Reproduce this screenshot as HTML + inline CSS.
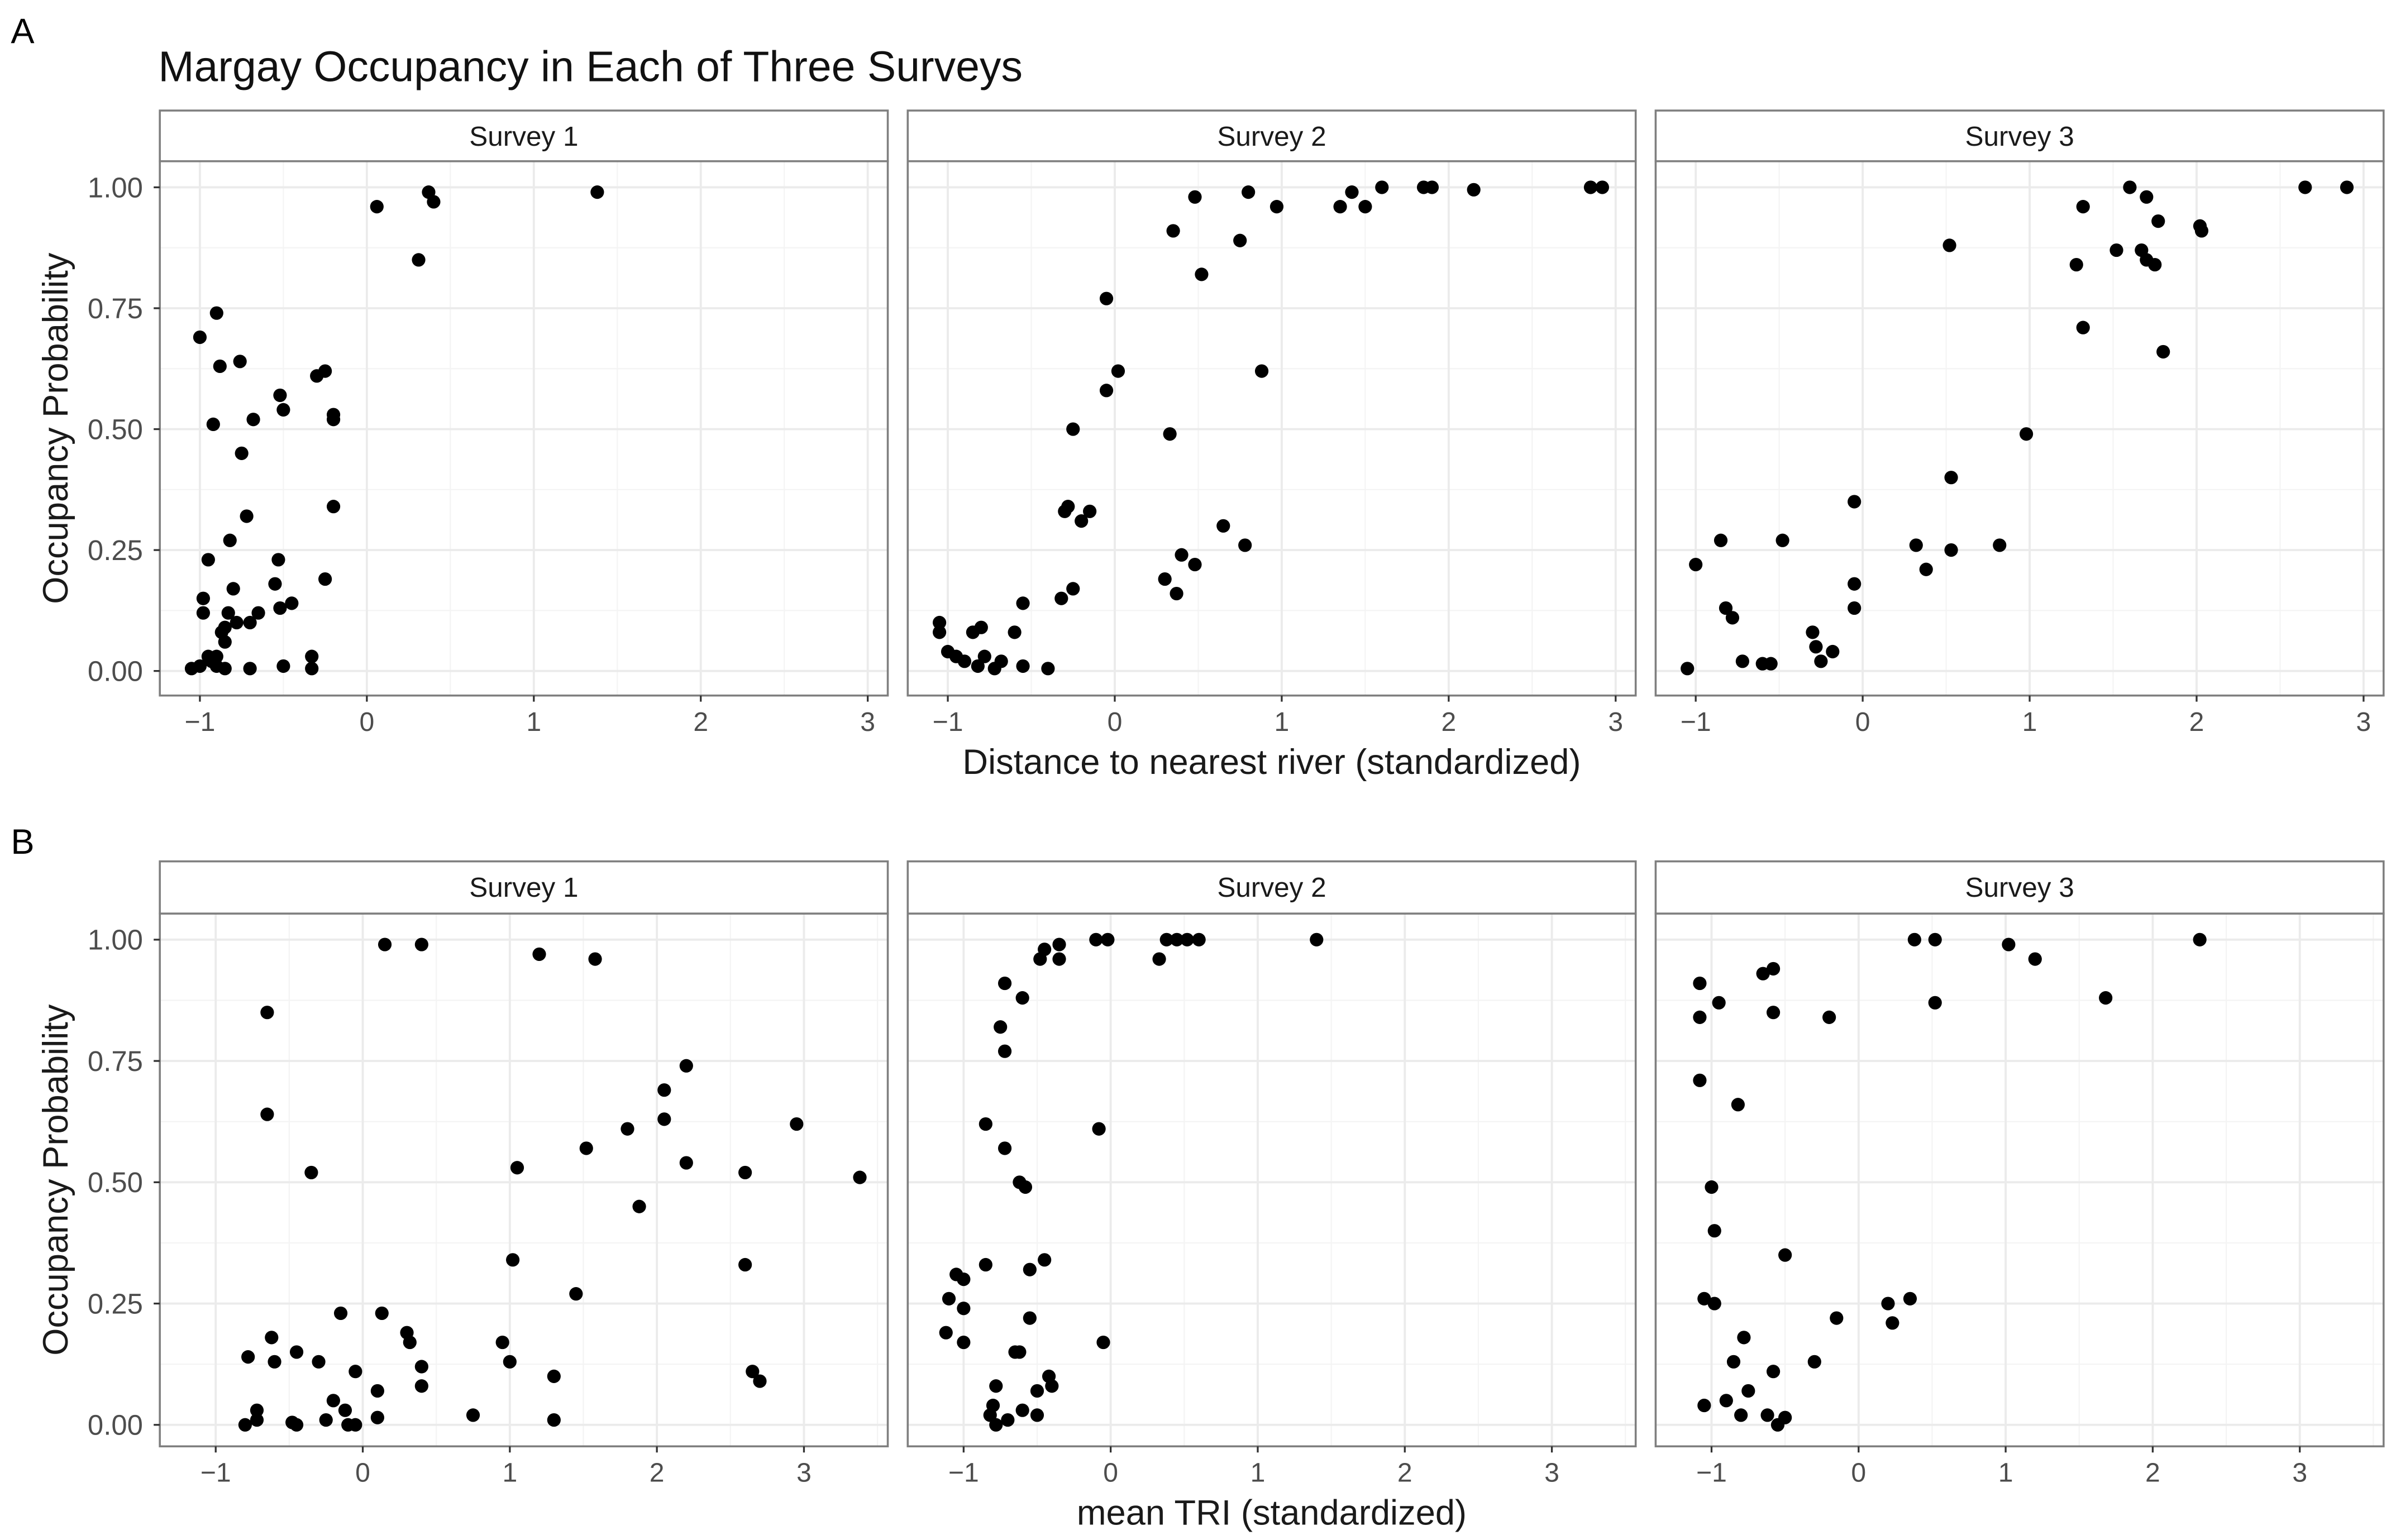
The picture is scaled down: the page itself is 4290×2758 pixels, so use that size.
<!DOCTYPE html>
<html><head><meta charset="utf-8"><style>
html,body{margin:0;padding:0;background:#fff;}
svg{display:block;font-family:"Liberation Sans",sans-serif;}
</style></head><body>
<svg id="chart" width="4290" height="2758" viewBox="0 0 1560 1003" xmlns="http://www.w3.org/2000/svg">
<text x="7" y="28" font-size="23">A</text>
<text x="103" y="53" font-size="28" fill="#111">Margay Occupancy in Each of Three Surveys</text>
<text x="7" y="556" font-size="23">B</text>
<g id="plots"></g>
</svg>
<script>
const surveys = ["Survey 1","Survey 2","Survey 3"];
const xTicks = [-1,0,1,2,3];
const yTicks = [0,0.25,0.5,0.75,1];
const yTickLabels = ["0.00","0.25","0.50","0.75","1.00"];
const xTitleA = "Distance to nearest river (standardized)";
const xTitleB = "mean TRI (standardized)";
const yTitle = "Occupancy Probability";

const a1x=[-1.05,-1.0,-0.98,-0.98,-0.95,-0.93,-0.92,-0.9,-0.88,-0.87,-0.85,-0.83,-0.82,-0.8,-0.76,-0.75,-0.72,-0.7,-0.68,-0.65,-0.55,-0.53,-0.52,-0.5,-0.45,-0.52,-0.5,-0.7,-0.33,-0.33,-0.3,-0.25,-0.25,-0.2,-0.2,-0.2,-0.9,-0.95,-1.0,-0.85,0.06,0.31,0.37,0.4,1.38,-0.78,-0.85,-0.9];
const a1y=[0.005,0.69,0.15,0.12,0.23,0.02,0.51,0.74,0.63,0.08,0.06,0.12,0.27,0.17,0.64,0.45,0.32,0.1,0.52,0.12,0.18,0.23,0.57,0.54,0.14,0.13,0.01,0.005,0.03,0.005,0.61,0.62,0.19,0.53,0.52,0.34,0.01,0.03,0.01,0.005,0.96,0.85,0.99,0.97,0.99,0.1,0.09,0.03];
const a2x=[-1.05,-1.05,-1.0,-0.95,-0.9,-0.85,-0.82,-0.8,-0.78,-0.72,-0.68,-0.6,-0.55,-0.55,-0.4,-0.32,-0.25,-0.3,-0.28,-0.25,-0.2,-0.15,-0.05,-0.05,0.02,0.3,0.33,0.35,0.37,0.4,0.48,0.48,0.52,0.65,0.75,0.78,0.8,0.88,0.97,1.35,1.42,1.5,1.6,1.85,1.9,2.15,2.85,2.92];
const a2y=[0.08,0.1,0.04,0.03,0.02,0.08,0.01,0.09,0.03,0.005,0.02,0.08,0.01,0.14,0.005,0.15,0.17,0.33,0.34,0.5,0.31,0.33,0.58,0.77,0.62,0.19,0.49,0.91,0.16,0.24,0.22,0.98,0.82,0.3,0.89,0.26,0.99,0.62,0.96,0.96,0.99,0.96,1.0,1.0,1.0,0.995,1.0,1.0];
const a3x=[-1.05,-1.0,-0.85,-0.82,-0.78,-0.72,-0.6,-0.55,-0.48,-0.3,-0.28,-0.25,-0.18,-0.05,-0.05,-0.05,0.32,0.38,0.52,0.53,0.53,0.82,0.98,1.28,1.32,1.32,1.52,1.6,1.67,1.7,1.7,1.75,1.77,1.8,2.02,2.03,2.65,2.9];
const a3y=[0.005,0.22,0.27,0.13,0.11,0.02,0.015,0.015,0.27,0.08,0.05,0.02,0.04,0.35,0.18,0.13,0.26,0.21,0.88,0.4,0.25,0.26,0.49,0.84,0.96,0.71,0.87,1.0,0.87,0.98,0.85,0.84,0.93,0.66,0.92,0.91,1.0,1.0];
const b1x=[-0.8,-0.78,-0.72,-0.72,-0.65,-0.65,-0.62,-0.6,-0.45,-0.48,-0.45,-0.35,-0.3,-0.25,-0.2,-0.15,-0.12,-0.05,-0.1,-0.05,0.1,0.1,0.13,0.15,0.4,0.3,0.32,0.4,0.4,0.75,0.95,1.0,1.02,1.05,1.2,1.3,1.3,1.45,1.52,1.58,1.8,1.88,2.05,2.05,2.2,2.2,2.6,2.6,2.65,2.7,2.95,3.38];
const b1y=[0.0,0.14,0.03,0.01,0.85,0.64,0.18,0.13,0.15,0.005,0.0,0.52,0.13,0.01,0.05,0.23,0.03,0.11,0.0,0.0,0.07,0.015,0.23,0.99,0.99,0.19,0.17,0.12,0.08,0.02,0.17,0.13,0.34,0.53,0.97,0.1,0.01,0.27,0.57,0.96,0.61,0.45,0.63,0.69,0.74,0.54,0.52,0.33,0.11,0.09,0.62,0.51];
const b2x=[-1.12,-1.1,-1.05,-1.0,-1.0,-1.0,-0.85,-0.85,-0.82,-0.8,-0.78,-0.78,-0.75,-0.72,-0.72,-0.72,-0.7,-0.65,-0.62,-0.62,-0.6,-0.6,-0.58,-0.55,-0.55,-0.5,-0.5,-0.48,-0.45,-0.45,-0.42,-0.4,-0.35,-0.35,-0.1,-0.08,-0.05,-0.02,0.33,0.38,0.45,0.52,0.6,1.4];
const b2y=[0.19,0.26,0.31,0.3,0.24,0.17,0.33,0.62,0.02,0.04,0.0,0.08,0.82,0.77,0.91,0.57,0.01,0.15,0.15,0.5,0.03,0.88,0.49,0.32,0.22,0.07,0.02,0.96,0.98,0.34,0.1,0.08,0.96,0.99,1.0,0.61,0.17,1.0,0.96,1.0,1.0,1.0,1.0,1.0];
const b3x=[-1.08,-1.08,-1.08,-1.05,-1.05,-1.0,-0.98,-0.98,-0.95,-0.9,-0.85,-0.82,-0.8,-0.78,-0.75,-0.65,-0.62,-0.58,-0.58,-0.58,-0.55,-0.5,-0.5,-0.3,-0.2,-0.15,0.2,0.23,0.35,0.38,0.52,0.52,1.02,1.2,1.68,2.32];
const b3y=[0.91,0.84,0.71,0.26,0.04,0.49,0.4,0.25,0.87,0.05,0.13,0.66,0.02,0.18,0.07,0.93,0.02,0.94,0.85,0.11,0.0,0.35,0.015,0.13,0.84,0.22,0.25,0.21,0.26,1.0,1.0,0.87,0.99,0.96,0.88,1.0];

const NS="http://www.w3.org/2000/svg";
const root=document.getElementById('plots');
function el(tag,attrs,parent){const e=document.createElementNS(NS,tag);for(const k in attrs)e.setAttribute(k,attrs[k]);(parent||root).appendChild(e);return e;}

const rows=[
 {stripTop:72,plotTop:105,plotBot:453,y1:122,y0:437,xmin:-1.24,xmax:3.12,xTitle:xTitleA,xTitleY:504,data:[[a1x,a1y],[a2x,a2y],[a3x,a3y]],tag:'a'},
 {stripTop:561,plotTop:595,plotBot:942,y1:612,y0:928,xmin:-1.38,xmax:3.57,xTitle:xTitleB,xTitleY:993,data:[[b1x,b1y],[b2x,b2y],[b3x,b3y]],tag:'b'}
];
const panelsX=[[104,578],[591,1065],[1078,1552]];

rows.forEach(r=>{
 const yS=v=>r.y0+(r.y1-r.y0)*v;
 panelsX.forEach((px,i)=>{
  const xS=v=>px[0]+(v-r.xmin)/(r.xmax-r.xmin)*(px[1]-px[0]);
  const g=el('g',{});
  
  
  for(let t=-1.5;t<=3.5;t+=1){const x=xS(t);if(x>px[0]&&x<px[1])el('line',{x1:x,x2:x,y1:r.plotTop,y2:r.plotBot,stroke:'#f4f4f4','stroke-width':0.8},g);}
  for(let t=0.125;t<1;t+=0.25){el('line',{x1:px[0],x2:px[1],y1:yS(t),y2:yS(t),stroke:'#f4f4f4','stroke-width':0.8},g);}
  xTicks.forEach(t=>{const x=xS(t);el('line',{x1:x,x2:x,y1:r.plotTop,y2:r.plotBot,stroke:'#ebebeb','stroke-width':1.4},g);});
  yTicks.forEach(t=>{el('line',{x1:px[0],x2:px[1],y1:yS(t),y2:yS(t),stroke:'#ebebeb','stroke-width':1.4},g);});
  const [xs,ys]=r.data[i];
  xs.forEach((xv,k)=>{
   const c=el('circle',{cx:xS(xv),cy:yS(ys[k]),r:4.4,fill:'#000'},g);
   
   
  });
  el('rect',{x:px[0],y:r.plotTop,width:px[1]-px[0],height:r.plotBot-r.plotTop,fill:'none',stroke:'#7f7f7f','stroke-width':1.3},g);
  const s=el('rect',{x:px[0],y:r.stripTop,width:px[1]-px[0],height:r.plotTop-r.stripTop,fill:'#fff',stroke:'#7f7f7f','stroke-width':1.3},g);
  
  
  const st=el('text',{x:(px[0]+px[1])/2,y:r.stripTop+23,'font-size':18,'text-anchor':'middle',fill:'#1a1a1a'},g);
  st.textContent=surveys[i];
  
  
  xTicks.forEach(t=>{const x=xS(t);
   el('line',{x1:x,x2:x,y1:r.plotBot,y2:r.plotBot+4,stroke:'#333','stroke-width':1.2},g);
   const tl=el('text',{x:x,y:r.plotBot+23,'font-size':17.5,'text-anchor':'middle',fill:'#4d4d4d'},g);
   tl.textContent=(t<0?'\u2212'+Math.abs(t):String(t));
   
   
  });
  if(i===0){
   yTicks.forEach((t,k)=>{
    el('line',{x1:px[0]-4,x2:px[0],y1:yS(t),y2:yS(t),stroke:'#333','stroke-width':1.2},g);
    const tl=el('text',{x:px[0]-11,y:yS(t)+6.5,'font-size':18.5,'text-anchor':'end',fill:'#4d4d4d'},g);
    tl.textContent=yTickLabels[k];
    
    
   });
  }
 });
 const xt=el('text',{x:828,y:r.xTitleY,'font-size':23,'text-anchor':'middle',fill:'#1a1a1a'});
 xt.textContent=r.xTitle;
 
 
 const cy=(r.plotTop+r.plotBot)/2;
 const yt=el('text',{x:0,y:0,'font-size':23,'text-anchor':'middle',fill:'#1a1a1a',transform:'translate(44,'+cy+') rotate(-90)'});
 yt.textContent=yTitle;
 
 
});
</script>
</body></html>
